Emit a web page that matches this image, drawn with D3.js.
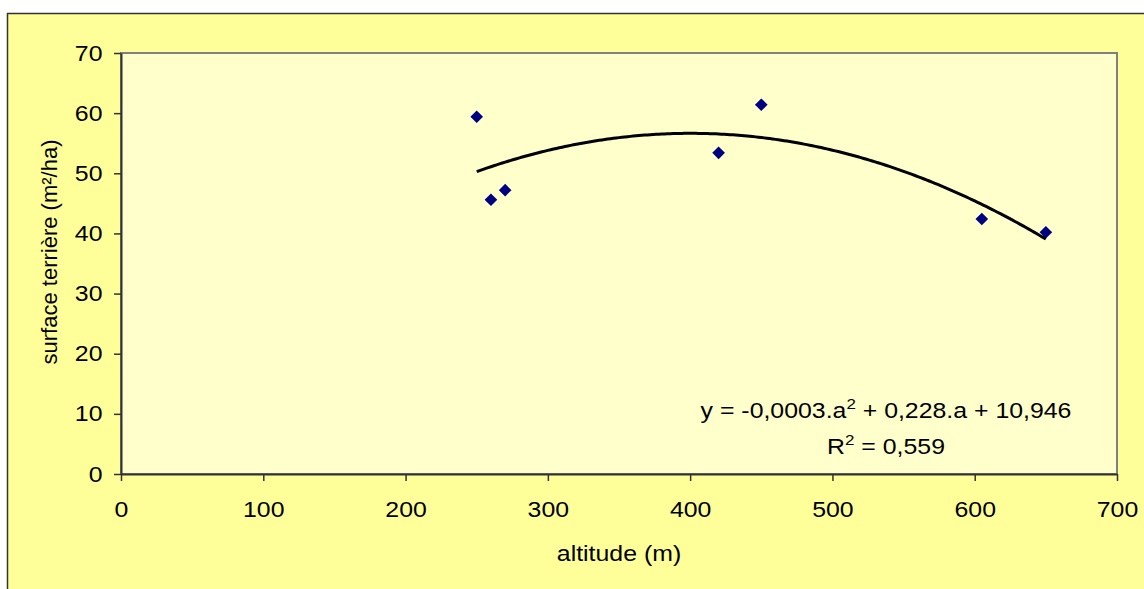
<!DOCTYPE html>
<html>
<head>
<meta charset="utf-8">
<script src="https://cdn.jsdelivr.net/npm/d3@7"></script>
<style>
  html, body { margin: 0; padding: 0; background: #ffffff; }
  svg { display: block; }
  text { font-family: "Liberation Sans", Arial, sans-serif; fill: #000; }
</style>
</head>
<body>
<svg id="chart" width="1144" height="589"></svg>
<script>
// ---- data ----
const altitude = [250, 260, 270, 420, 450, 605, 650];
const surface  = [59.4, 45.6, 47.2, 53.4, 61.4, 42.4, 40.2];
const xTicks = [0, 100, 200, 300, 400, 500, 600, 700];
const yTicks = [0, 10, 20, 30, 40, 50, 60, 70];
const xTitle = "altitude (m)";
const yTitle = "surface terrière (m²/ha)";
const eqParts = ["y = -0,0003.a", "2", " + 0,228.a + 10,946"];
const r2Parts = ["R", "2", " = 0,559"];

// ---- layout ----
const W = 1144, H = 589;
const plot = { left: 121, top: 53, right: 1117, bottom: 474 };
const SX = 1.13; // horizontal stretch of horizontal text

const svg = d3.select("#chart");

// outer chart area
svg.append("rect")
  .attr("x", 7.5).attr("y", 13.5)
  .attr("width", W + 10).attr("height", H + 10)
  .attr("fill", "#FFFF99")
  .attr("stroke", "#333333").attr("stroke-width", 1.5);

// plot area
svg.append("rect")
  .attr("x", plot.left).attr("y", plot.top)
  .attr("width", plot.right - plot.left).attr("height", plot.bottom - plot.top)
  .attr("fill", "#FFFFCC")
  .attr("stroke", "#808080").attr("stroke-width", 2);

const x = d3.scaleLinear().domain([0, 700]).range([plot.left, plot.right]);
const y = d3.scaleLinear().domain([0, 70]).range([plot.bottom, plot.top]);

// axes
const xAxis = d3.axisBottom(x).tickValues(xTicks).tickSize(7).tickPadding(20).tickSizeOuter(0);
const yAxis = d3.axisLeft(y).tickValues(yTicks).tickSize(7).tickPadding(12).tickSizeOuter(0);

const gx = svg.append("g").attr("transform", `translate(0,${plot.bottom})`).call(xAxis);
const gy = svg.append("g").attr("transform", `translate(${plot.left},0)`).call(yAxis);

[gx, gy].forEach(g => {
  g.select(".domain").attr("stroke", "#333333").attr("stroke-width", 2);
  g.selectAll(".tick line").attr("stroke", "#333333").attr("stroke-width", 1.5);
  g.selectAll(".tick text")
    .style("font-family", '"Liberation Sans", Arial, sans-serif')
    .style("font-size", "22px").attr("fill", "#000")
    .attr("transform", `scale(${SX},1)`);
});
gy.selectAll(".tick text").attr("dy", "0.32em").attr("x", -18.5 / SX);

// axis titles
function stretchedText(cx, cy, str) {
  return svg.append("g").attr("transform", `translate(${cx},${cy}) scale(${SX},1)`)
    .append("text")
    .attr("x", 0).attr("y", 0)
    .attr("text-anchor", "middle")
    .style("font-size", "22px")
    .text(str);
}
stretchedText((plot.left + plot.right) / 2, 561, xTitle);

svg.append("text")
  .attr("transform", `translate(57,252) rotate(-90)`)
  .attr("text-anchor", "middle")
  .style("font-size", "22px")
  .text(yTitle);

// polynomial (order 2) least-squares trendline from the data
function polyFit2(xs, ys) {
  const n = xs.length;
  let s = [0,0,0,0,0], t = [0,0,0];
  for (let i = 0; i < n; i++) {
    const xi = xs[i], yi = ys[i];
    for (let k = 0; k < 5; k++) s[k] += Math.pow(xi, k);
    for (let k = 0; k < 3; k++) t[k] += yi * Math.pow(xi, k);
  }
  const A = [[s[0], s[1], s[2]], [s[1], s[2], s[3]], [s[2], s[3], s[4]]];
  const b = t.slice();
  for (let i = 0; i < 3; i++) {
    let p = i;
    for (let r = i + 1; r < 3; r++) if (Math.abs(A[r][i]) > Math.abs(A[p][i])) p = r;
    [A[i], A[p]] = [A[p], A[i]]; [b[i], b[p]] = [b[p], b[i]];
    for (let r = i + 1; r < 3; r++) {
      const f = A[r][i] / A[i][i];
      for (let c = i; c < 3; c++) A[r][c] -= f * A[i][c];
      b[r] -= f * b[i];
    }
  }
  const c = [0,0,0];
  for (let i = 2; i >= 0; i--) {
    let sum = b[i];
    for (let j = i + 1; j < 3; j++) sum -= A[i][j] * c[j];
    c[i] = sum / A[i][i];
  }
  return c; // c0 + c1 x + c2 x^2
}
const coef = polyFit2(altitude, surface);
const xMin = d3.min(altitude), xMax = d3.max(altitude);
const curve = d3.range(0, 201).map(i => {
  const a = xMin + (xMax - xMin) * i / 200;
  return [a, coef[0] + coef[1] * a + coef[2] * a * a];
});
svg.append("path")
  .datum(curve)
  .attr("fill", "none")
  .attr("stroke", "#000")
  .attr("stroke-width", 3)
  .attr("d", d3.line().x(d => x(d[0])).y(d => y(d[1])));

// markers (diamonds)
svg.append("g").selectAll("path")
  .data(altitude.map((a, i) => [a, surface[i]]))
  .join("path")
  .attr("d", d3.symbol().type(d3.symbolSquare).size(80))
  .attr("transform", d => `translate(${x(d[0])},${y(d[1])}) rotate(45)`)
  .attr("fill", "#000080");

// equation labels
function supText(parts, cx, cy) {
  const t = svg.append("g").attr("transform", `translate(${cx},${cy}) scale(${SX},1)`)
    .append("text")
    .attr("x", 0).attr("y", 0)
    .attr("text-anchor", "middle")
    .style("font-size", "22px");
  t.append("tspan").text(parts[0]);
  t.append("tspan").attr("dy", -9).style("font-size", "15px").text(parts[1]);
  t.append("tspan").attr("dy", 9).text(parts[2]);
}
supText(eqParts, 886, 418);
supText(r2Parts, 886, 454);
</script>
</body>
</html>
